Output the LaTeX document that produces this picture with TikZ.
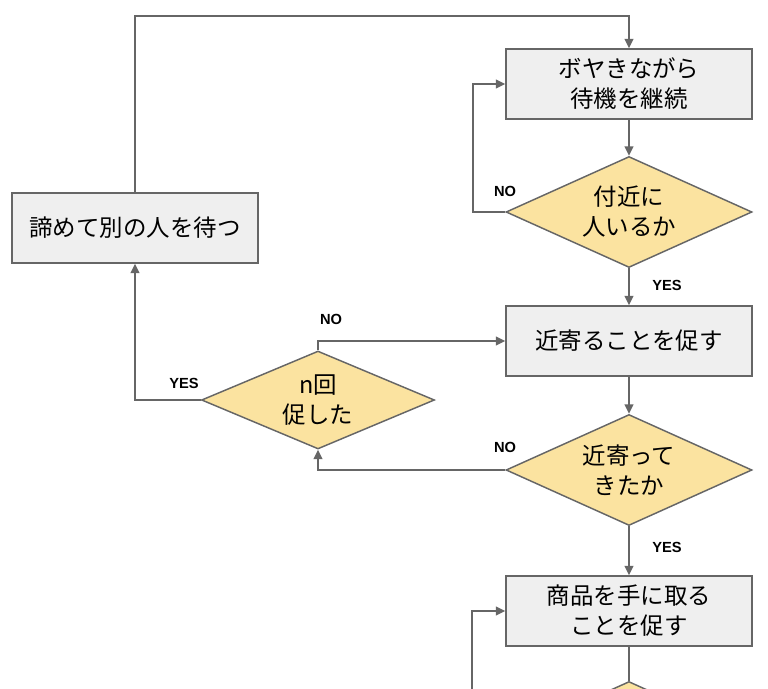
\documentclass[tikz,border=0pt]{standalone}
\usepackage{fontspec}
\setmainfont{Liberation Sans}
\newfontfamily\jpfont{Noto Sans CJK JP}
\usetikzlibrary{shapes.geometric,arrows.meta}
\definecolor{boxgray}{HTML}{EFEFEF}
\definecolor{linegray}{HTML}{666666}
\definecolor{diayellow}{HTML}{FBE3A0}

\begin{document}
\begin{tikzpicture}[x=0.75pt,y=-0.75pt,
        proc/.style={draw=linegray,line width=1.1pt,fill=boxgray,inner sep=0pt,
            minimum width=184.5pt,minimum height=52.5pt,align=center,
            font=\jpfont\fontsize{17.6}{22.5}\selectfont},
        dec/.style={diamond,draw=linegray,line width=1.1pt,fill=diayellow,aspect=2.2,
            inner sep=0pt,minimum width=184.5pt,minimum height=83.25pt,align=center,
            font=\jpfont\fontsize{17.6}{22.5}\selectfont},
        flow/.style={draw=linegray,line width=1.1pt,-{Triangle[length=7pt,width=6.5pt]}},
        plain/.style={draw=linegray,line width=1.1pt},
        ans/.style={font=\bfseries\fontsize{11}{12}\selectfont}]
                \useasboundingbox (0,0) rectangle (768,689);
                \clip (0,0) rectangle (768,689);
                %% boxes
                \node[proc] (wait) at (629,84) {ボヤきながら\\待機を継続};
                \node[proc] (urge) at (629,341) {近寄ることを促す};
                \node[proc] (pick) at (629,611) {商品を手に取る\\ことを促す};
                \node[proc] (quit) at (135,228) {諦めて別の人を待つ};
                %% decisions
                \node[dec] (near) at (629,212) {付近に\\人いるか};
                \node[dec] (came) at (629,470) {近寄って\\きたか};
                \node[dec,minimum width=174.75pt,minimum height=73.5pt] (count) at (318,400) {n回\\促した};
                \node[dec] (next) at (629,737) {};
                \coordinate (loopin) at (472,700);
                %% connectors
                \draw[flow] (quit.north) |- (629,16) -- (wait.north);
                \draw[flow] (wait) -- (near);
                \draw[flow] (near.west) -- (473,212) |- (wait.west);
                \draw[flow] (near) -- (urge);
                \draw[flow] (urge) -- (came);
                \draw[flow] (came.west) -| (count.south);
                \draw[flow] (came) -- (pick);
                \draw[flow] (count.north) |- (urge.west);
                \draw[flow] (count.west) -| (quit.south);
                \draw[plain] (pick) -- (next);
                \draw[flow] (loopin) |- (pick.west);
                %% labels
                \node[ans] at (505,191) {NO};
                \node[ans] at (667,285) {YES};
                \node[ans] at (331,319) {NO};
                \node[ans] at (184,383) {YES};
                \node[ans] at (505,447) {NO};
                \node[ans] at (667,547) {YES};
            \end{tikzpicture}
\end{document}
